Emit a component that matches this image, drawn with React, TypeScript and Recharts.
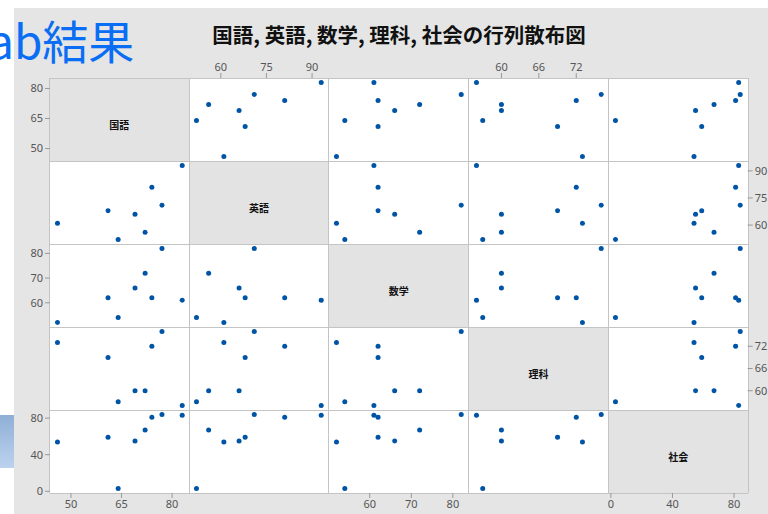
import React from "react";
import { ScatterChart, Scatter, XAxis, YAxis } from "recharts";

// 8 students
const subjects = ["国語", "英語", "数学", "理科", "社会"];
const kokugo = [46, 61, 64, 69, 72, 74, 77, 83];
const eigo = [61, 68, 52, 66, 56, 81, 71, 93];
const sugaku = [52, 62, 54, 66, 72, 62, 82, 61];
const rika = [73, 69, 57, 60, 60, 72, 76, 56];
const shakai = [54, 59, 3, 55, 67, 81, 84, 83];

const kokugoTicks = [50, 65, 80];
const eigoTicks = [60, 75, 90];
const sugakuTicks = [60, 70, 80];
const rikaTicks = [60, 66, 72];
const shakaiTicks = [0, 40, 80];

const columns = [kokugo, eigo, sugaku, rika, shakai];
const tickSets = [kokugoTicks, eigoTicks, sugakuTicks, rikaTicks, shakaiTicks];

const table = kokugo.map((_, i) => {
  const row: Record<string, number> = {};
  subjects.forEach((s, j) => {
    row[s] = columns[j][i];
  });
  return row;
});

// minitab-ish padding around the data range
const domains = columns.map((vals) => {
  const lo = Math.min(...vals);
  const hi = Math.max(...vals);
  const pad = (hi - lo) * 0.06;
  return [lo - pad, hi + pad] as [number, number];
});

const GRID_X = 49.5;
const GRID_Y = 78;
const CELL_W = 139.7;
const CELL_H = 83;
const AXIS_W = 36;
const AXIS_H = 22;
const N = subjects.length;

const tickStyle = { fill: "#555", fontSize: 11, fontFamily: "'Noto Sans', sans-serif" };
const dotColor = "#0054a6";

const Dot = (props: any) => {
  if (props.cx == null || props.cy == null) return null;
  return <circle cx={props.cx} cy={props.cy} r={2.5} fill={dotColor} />;
};

const Cell: React.FC<{ r: number; c: number }> = ({ r, c }) => {
  const showLeft = c === 0 && r % 2 === 0;
  const showRight = c === N - 1 && r % 2 === 1;
  const showTop = r === 0 && c % 2 === 1;
  const showBottom = r === N - 1 && c % 2 === 0;
  const l = showLeft ? AXIS_W : 0;
  const rt = showRight ? AXIS_W : 0;
  const t = showTop ? AXIS_H : 0;
  const b = showBottom ? AXIS_H : 0;
  const x0 = GRID_X + c * CELL_W;
  const y0 = GRID_Y + r * CELL_H;
  const diag = r === c;

  return (
    <div style={{ position: "absolute", left: x0 - l, top: y0 - t }}>
      <ScatterChart
        width={CELL_W + l + rt}
        height={CELL_H + t + b}
        margin={{ top: 0, right: 0, bottom: 0, left: 0 }}
      >
        <XAxis
          type="number"
          dataKey={subjects[c]}
          domain={domains[c]}
          ticks={tickSets[c]}
          allowDataOverflow
          hide={!(showTop || showBottom)}
          orientation={showTop ? "top" : "bottom"}
          height={AXIS_H}
          axisLine={false}
          tickLine={{ stroke: "#999" }}
          tickSize={5}
          tick={tickStyle}
        />
        <YAxis
          type="number"
          dataKey={subjects[r]}
          domain={domains[r]}
          ticks={tickSets[r]}
          allowDataOverflow
          hide={!(showLeft || showRight)}
          orientation={showRight ? "right" : "left"}
          width={AXIS_W}
          axisLine={false}
          tickLine={{ stroke: "#999" }}
          tickSize={5}
          tick={tickStyle}
        />
        {!diag && (
          <Scatter data={table} shape={<Dot />} isAnimationActive={false} />
        )}
      </ScatterChart>
    </div>
  );
};

export default function App() {
  const cells: React.ReactNode[] = [];
  const boxes: React.ReactNode[] = [];
  for (let r = 0; r < N; r++) {
    for (let c = 0; c < N; c++) {
      boxes.push(
        <div
          key={`b${r}-${c}`}
          style={{
            position: "absolute",
            left: GRID_X + c * CELL_W,
            top: GRID_Y + r * CELL_H,
            width: CELL_W,
            height: CELL_H,
            background: r === c ? "#e3e3e3" : "#fff",
          }}
        >
          {r === c && (
            <div
              style={{
                position: "absolute",
                inset: 0,
                paddingTop: 10,
                display: "flex",
                alignItems: "center",
                justifyContent: "center",
                fontFamily: "'Noto Sans CJK JP', sans-serif",
                fontWeight: 700,
                fontSize: 10,
                color: "#111",
              }}
            >
              {subjects[r]}
            </div>
          )}
        </div>
      );
      cells.push(<Cell key={`c${r}-${c}`} r={r} c={c} />);
    }
  }
  const lines: React.ReactNode[] = [];
  for (let i = 0; i <= N; i++) {
    lines.push(
      <div
        key={`v${i}`}
        style={{
          position: "absolute",
          left: GRID_X + i * CELL_W - 0.5,
          top: GRID_Y,
          width: 1,
          height: CELL_H * N,
          background: "#c4c4c4",
        }}
      />
    );
    lines.push(
      <div
        key={`h${i}`}
        style={{
          position: "absolute",
          left: GRID_X,
          top: GRID_Y + i * CELL_H - 0.5,
          width: CELL_W * N,
          height: 1,
          background: "#c4c4c4",
        }}
      />
    );
  }

  return (
    <div
      style={{
        position: "absolute",
        left: 0,
        top: 0,
        width: 768,
        height: 514,
        overflow: "hidden",
        background: "#fff",
      }}
    >
      <div
        style={{
          position: "absolute",
          left: 14,
          top: 8,
          right: 0,
          bottom: 0,
          background: "#e5e5e5",
        }}
      />
      <div
        style={{
          position: "absolute",
          left: 0,
          top: 415,
          width: 14,
          height: 53,
          background: "linear-gradient(#8eafd6, #bcd3ef)",
        }}
      />
      <div
        style={{
          position: "absolute",
          left: -12,
          top: 4,
          fontFamily: "'Noto Sans CJK JP', sans-serif",
          fontSize: 46,
          lineHeight: "70px",
          color: "#0a6ef5",
          whiteSpace: "nowrap",
        }}
      >
        ab結果
      </div>
      <div
        style={{
          position: "absolute",
          left: 399,
          top: 34,
          transform: "translate(-50%, -50%)",
          fontFamily: "'Noto Sans CJK JP', sans-serif",
          fontWeight: 700,
          fontSize: 20.5,
          color: "#111",
          whiteSpace: "nowrap",
        }}
      >
        国語, 英語, 数学, 理科, 社会の行列散布図
      </div>
      {boxes}
      {lines}
      {cells}
    </div>
  );
}
